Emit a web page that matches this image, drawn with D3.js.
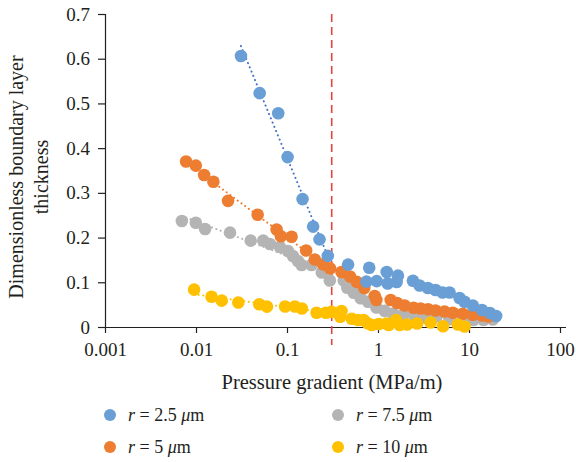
<!DOCTYPE html>
<html><head><meta charset="utf-8">
<script src="https://cdn.jsdelivr.net/npm/d3@7"></script>
<style>body{margin:0;background:#fff}svg{display:block}text{font-family:"Liberation Serif",serif;fill:#231f20}</style>
</head><body><svg id="c" width="576" height="462"></svg>
<script>
// ---- data ----
const seriesNames = ["r = 2.5 μm", "r = 5 μm", "r = 7.5 μm", "r = 10 μm"];
const xTicks = [0.001, 0.01, 0.1, 1, 10, 100];
const yTicks = [0, 0.1, 0.2, 0.3, 0.4, 0.5, 0.6, 0.7];
const criticalGradient = 0.31;

const r25x = [0.0312,0.0501,0.0801,0.1015,0.1483,0.1937,0.2277,0.2808,0.469,0.746,0.801,0.968,1.246,1.277,1.603,1.657,2.42,2.866,3.533,4.29,5.12,6.11,7.87,8.93,11.01,13.88,16.99,19.87];
const r25y = [0.606,0.523,0.478,0.380,0.286,0.2245,0.196,0.159,0.1395,0.1014,0.1324,0.1025,0.1231,0.0973,0.1007,0.1148,0.1036,0.0928,0.0872,0.0828,0.0772,0.0772,0.0649,0.0566,0.0481,0.0380,0.0313,0.0246];

const r5x = [0.00778,0.00995,0.01227,0.01552,0.0225,0.0476,0.0769,0.0857,0.1123,0.1624,0.2022,0.2494,0.2977,0.397,0.493,0.584,0.706,0.920,0.960,1.378,1.623,1.963,2.463,2.94,3.55,4.29,5.39,6.64,8.55,11.0,13.9,16.4];
const r5y = [0.370,0.361,0.340,0.325,0.282,0.251,0.218,0.203,0.202,0.171,0.151,0.140,0.131,0.123,0.113,0.101,0.0872,0.0694,0.0604,0.0604,0.0537,0.0481,0.0432,0.0414,0.0396,0.0369,0.0347,0.0320,0.0298,0.0275,0.0257,0.0235];

const r75x = [0.00699,0.00995,0.01259,0.02365,0.0399,0.0548,0.0650,0.0836,0.1023,0.1161,0.1317,0.1446,0.1861,0.2414,0.2954,0.4206,0.4596,0.5415,0.6458,0.7771,0.9604,1.184,1.460,1.913,2.526,3.394,4.402,6.11,8.55,11.2,14.42,18.24];
const r75y = [0.2371,0.2333,0.2192,0.2110,0.1931,0.1931,0.1857,0.1790,0.1700,0.1588,0.1477,0.1387,0.1387,0.1219,0.1040,0.1040,0.0878,0.0766,0.0644,0.0565,0.0436,0.0360,0.0302,0.0291,0.0224,0.0201,0.0235,0.0172,0.0157,0.0157,0.0157,0.0168];

const r10x = [0.00953,0.01483,0.01918,0.02917,0.0496,0.0602,0.0953,0.1221,0.1457,0.2112,0.2670,0.3083,0.3970,0.3850,0.5147,0.6035,0.6969,0.7709,0.8531,1.018,1.236,1.310,1.575,1.730,2.090,2.691,3.784,5.187,7.540,8.93];
const r10y = [0.0835,0.0678,0.0589,0.0548,0.0508,0.0455,0.0459,0.0459,0.0414,0.0320,0.0320,0.0342,0.0358,0.0230,0.0186,0.0157,0.0157,0.0083,0.0045,0.0067,0.0078,0.0045,0.0157,0.0045,0.0056,0.0078,0.0101,0.0016,0.0056,0.0011];

const colors = ["#6A9FD6", "#ED7D31", "#B4B4B4", "#FFC000"];
const trendColors = ["#4472C4", "#ED7D31", "#B4B4B4", "#FFC000"];

const series = [
  {x: r25x, y: r25y}, {x: r5x, y: r5y}, {x: r75x, y: r75y}, {x: r10x, y: r10y}
].map((s, i) => ({name: seriesNames[i], color: colors[i], trend: trendColors[i],
  pts: s.x.map((v, j) => ({x: v, y: s.y[j]}))}));

// ---- chart ----
const svg = d3.select("#c");
const x = d3.scaleLog().domain([0.001, 100]).range([105, 560]);
const y = d3.scaleLinear().domain([0, 0.7]).range([327, 14]);
const fs = 19;
const serif = '"Liberation Serif", "Times New Roman", serif';

function styleAxis(g) {
  g.attr("font-family", serif).attr("font-size", fs);
  g.selectAll(".tick line").attr("stroke", "#231f20").attr("stroke-width", 1.2);
  g.selectAll("text").attr("fill", "#231f20");
}

// axes
const xAxis = svg.append("g").attr("transform", `translate(0,${y(0)})`)
  .call(d3.axisBottom(x).tickValues(xTicks).tickSize(6).tickPadding(10)
    .tickFormat(d => String(d)));
xAxis.select(".domain").attr("d", `M105,0.5H566`).attr("stroke", "#231f20").attr("stroke-width", 1.2);
styleAxis(xAxis);

const yAxis = svg.append("g").attr("transform", `translate(105,0)`)
  .call(d3.axisLeft(y).tickValues(yTicks).tickSize(7).tickPadding(8).tickFormat(d => d === 0 ? "0" : d3.format(".1f")(d)));
yAxis.select(".domain").attr("d", `M0.5,${y(0.7)}V${y(0)}`).attr("stroke", "#231f20").attr("stroke-width", 1.2);
styleAxis(yAxis);

// critical line
svg.append("line").attr("x1", x(criticalGradient)).attr("x2", x(criticalGradient))
  .attr("y1", y(0.7)).attr("y2", y(0) + 18)
  .attr("stroke", "#E8433D").attr("stroke-width", 1.6).attr("stroke-dasharray", "8,5");

// trendlines: logarithmic least-squares fit of points left of the critical gradient
function fitLog(pts) {
  const xs = pts.map(p => Math.log10(p.x)), ys = pts.map(p => p.y);
  const mx = d3.mean(xs), my = d3.mean(ys);
  const a = d3.sum(xs.map((v, i) => (v - mx) * (ys[i] - my))) / d3.sum(xs.map(v => (v - mx) ** 2));
  const b = my - a * mx;
  const x0 = d3.min(pts, p => p.x), x1 = d3.max(pts, p => p.x);
  return [{x: x0, y: a * Math.log10(x0) + b}, {x: x1, y: a * Math.log10(x1) + b}];
}
const line = d3.line().x(d => x(d.x)).y(d => y(d.y));
series.forEach(s => {
  const left = s.pts.filter(p => p.x < criticalGradient);
  svg.append("path").attr("d", line(fitLog(left))).attr("fill", "none")
    .attr("stroke", s.trend).attr("stroke-width", 2).attr("stroke-linecap", "round")
    .attr("stroke-dasharray", "0.1,4.5");
});

// markers
const order = [2, 1, 0, 3];
order.forEach(i => {
  const s = series[i];
  svg.append("g").selectAll("circle").data(s.pts).join("circle")
    .attr("cx", d => x(d.x)).attr("cy", d => y(d.y)).attr("r", 6.3).attr("fill", s.color);
});

// axis titles
svg.append("text").attr("x", 332).attr("y", 389).attr("text-anchor", "middle").attr("font-size", 20.5)
  .attr("font-family", serif).text("Pressure gradient (MPa/m)");
const yt = svg.append("text").attr("transform", "translate(23,177) rotate(-90)").attr("text-anchor", "middle")
  .attr("font-size", 20).attr("font-family", serif);
yt.append("tspan").attr("x", 0).attr("dy", 0).text("Dimensionless boundary layer");
yt.append("tspan").attr("x", 0).attr("dy", 25).text("thickness");

// legend
const legPos = [[110, 415], [110, 447], [338, 415], [338, 447]];
series.forEach((s, i) => {
  const [lx, ly] = legPos[i];
  svg.append("circle").attr("cx", lx).attr("cy", ly).attr("r", 6).attr("fill", s.color);
  const t = svg.append("text").attr("x", lx + 18).attr("y", ly + 6).attr("font-size", 18).attr("font-family", serif);
  const m = s.name.match(/^r( = [\d.]+ )μm$/);
  t.append("tspan").attr("font-style", "italic").text("r");
  t.append("tspan").text(m[1]);
  t.append("tspan").attr("font-style", "italic").text("μ");
  t.append("tspan").text("m");
});
</script></body></html>
